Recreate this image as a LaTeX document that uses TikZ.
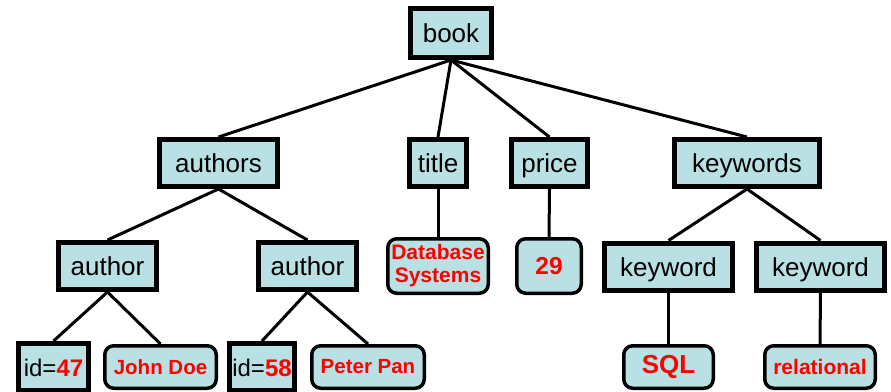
\documentclass[tikz,border=0pt]{standalone}
\usepackage{fontspec}
\setmainfont{Liberation Sans}
\definecolor{boxblue}{RGB}{185,224,227}
\definecolor{valred}{RGB}{255,0,0}
\tikzset{
  elem/.style={draw=black, line width=5pt, fill=boxblue, inner sep=0pt,
    text height=19pt, text depth=0pt,
    font=\fontsize{26}{28}\selectfont},
  val/.style={draw=black, line width=3.5pt, fill=boxblue, inner sep=0pt,
    rounded corners=9pt, text=valred, align=center,
    font=\fontsize{20.5}{23}\selectfont\bfseries},
  conn/.style={draw=black, line width=3pt}
}
\begin{document}
\begin{tikzpicture}[x=1pt,y=-1pt]
\useasboundingbox (0,0) rectangle (891,391);
% level 0
\node[elem, minimum width=81pt, minimum height=49pt] (book) at (451,33) {book};
% level 1
\node[elem, minimum width=118pt, minimum height=47pt] (authors) at (218.5,163) {authors};
\node[elem, minimum width=57pt, minimum height=47pt] (title) at (438,163) {title};
\node[elem, minimum width=76pt, minimum height=47pt] (price) at (549.5,163) {price};
\node[elem, minimum width=145pt, minimum height=47pt] (keywords) at (747,163) {keywords};
% level 2
\node[elem, minimum width=98pt, minimum height=47pt] (author1) at (107.5,266) {author};
\node[elem, minimum width=98pt, minimum height=47pt] (author2) at (307.5,266) {author};
\node[val, minimum width=100.5pt, minimum height=54.5pt, font=\fontsize{21}{23}\selectfont\bfseries] (dbs) at (438,266) {Database\\Systems};
\node[val, minimum width=64.5pt, minimum height=54.5pt, font=\fontsize{24.5}{26}\selectfont\bfseries] (p29) at (549,266) {29};
\node[elem, minimum width=128pt, minimum height=47pt] (keyword1) at (668.5,266.5) {keyword};
\node[elem, minimum width=128pt, minimum height=47pt] (keyword2) at (820.5,266.5) {keyword};
% level 3
\node[elem, minimum width=70pt, minimum height=47pt, font=\fontsize{24}{26}\selectfont] (id47) at (53.5,367) {id=\textcolor{valred}{\bfseries 47}};
\node[val, minimum width=111.5pt, minimum height=42.5pt] (jdoe) at (160.5,367) {John Doe};
\node[elem, minimum width=65pt, minimum height=47pt, font=\fontsize{24}{26}\selectfont] (id58) at (262,367) {id=\textcolor{valred}{\bfseries 58}};
\node[val, minimum width=112.5pt, minimum height=42.5pt] (ppan) at (368,367) {Peter Pan};
\node[val, minimum width=89.5pt, minimum height=42.5pt, font=\fontsize{26}{28}\selectfont\bfseries] (sql) at (668.5,367) {SQL};
\node[val, minimum width=110.5pt, minimum height=42.5pt, font=\fontsize{21}{23}\selectfont\bfseries] (rel) at (820,367) {relational};
% connectors
\draw[conn] (book.south) -- (authors.north);
\draw[conn] (book.south) -- (title.north);
\draw[conn] (book.south) -- (price.north);
\draw[conn] (book.south) -- (keywords.north);
\draw[conn] (authors.south) -- (author1.north);
\draw[conn] (authors.south) -- (author2.north);
\draw[conn] (title.south) -- (dbs.north);
\draw[conn] (price.south) -- (p29.north);
\draw[conn] (keywords.south) -- (keyword1.north);
\draw[conn] (keywords.south) -- (keyword2.north);
\draw[conn] (author1.south) -- (id47.north);
\draw[conn] (author1.south) -- (jdoe.north);
\draw[conn] (author2.south) -- (id58.north);
\draw[conn] (author2.south) -- (ppan.north);
\draw[conn] (keyword1.south) -- (sql.north);
\draw[conn] (keyword2.south) -- (rel.north);
\end{tikzpicture}
\end{document}
